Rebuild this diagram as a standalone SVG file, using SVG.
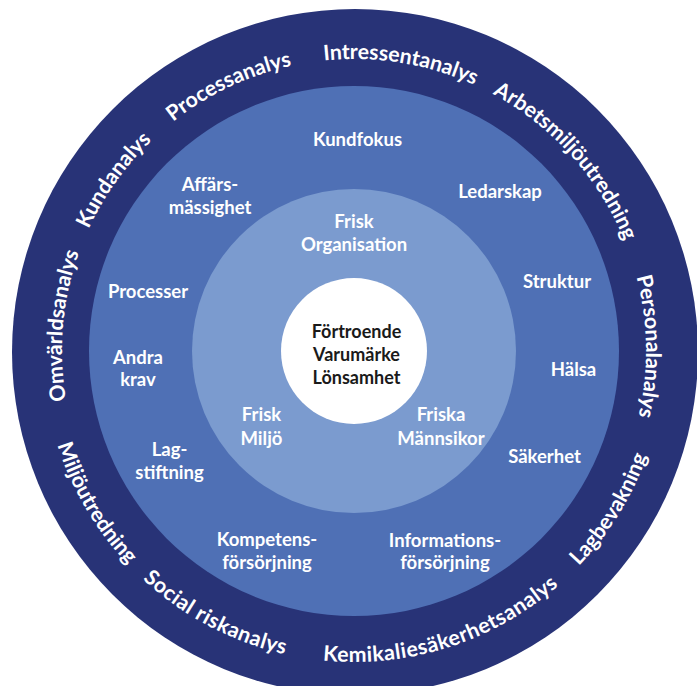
<svg xmlns="http://www.w3.org/2000/svg" xmlns:xlink="http://www.w3.org/1999/xlink" width="697" height="686" viewBox="0 0 697 686">
<style>
.lbl{font-family:Lato,"Open Sans","DejaVu Sans",sans-serif;font-weight:700;fill:#ffffff;text-anchor:middle;font-size:18.5px}
.ctr{font-family:Lato,"Open Sans","DejaVu Sans",sans-serif;font-weight:700;fill:#1a1a1a;text-anchor:middle;font-size:18px}
.arc{font-family:Lato,"Open Sans","DejaVu Sans",sans-serif;font-weight:700;fill:#ffffff;text-anchor:middle;font-size:21.3px}
.wide{letter-spacing:0.5px}
</style>
<defs>
<path id="cw" d="M354,643 A292,292 0 1 1 354,59 A292,292 0 1 1 354,643"/>
<path id="ccw" d="M354,40 A311,311 0 1 0 354,662 A311,311 0 1 0 354,40"/>
</defs>
<rect width="697" height="686" fill="#ffffff"/>
<g id="rings">
<circle cx="355" cy="352" r="343" fill="#283377"/>
<circle cx="354" cy="351" r="265" fill="#4f70b5"/>
<circle cx="354" cy="351" r="162" fill="#7b9bcf"/>
<circle cx="354" cy="351" r="73" fill="#ffffff"/>
</g>
<g id="outer-labels">
<text class="arc"><textPath xlink:href="#cw" startOffset="484">Omvärldsanalys</textPath></text>
<text class="arc"><textPath xlink:href="#cw" startOffset="639">Kundanalys</textPath></text>
<text class="arc"><textPath xlink:href="#cw" startOffset="788">Processanalys</textPath></text>
<text class="arc"><textPath xlink:href="#cw" startOffset="964">Intressentanalys</textPath></text>
<text class="arc"><textPath xlink:href="#cw" startOffset="1162">Arbetsmiljöutredning</textPath></text>
<text class="arc"><textPath xlink:href="#cw" startOffset="1371">Personalanalys</textPath></text>
<text class="arc"><textPath xlink:href="#ccw" startOffset="1293">Lagbevakning</textPath></text>
<text class="arc wide"><textPath xlink:href="#ccw" startOffset="1073">Kemikaliesäkerhetsanalys</textPath></text>
<text class="arc wide"><textPath xlink:href="#ccw" startOffset="826">Social riskanalys</textPath></text>
<text class="arc"><textPath xlink:href="#ccw" startOffset="654">Miljöutredning</textPath></text>
</g>
<g id="middle-labels">
<text class="lbl" x="357.5" y="146">Kundfokus</text>
<text class="lbl" x="210" y="191">Affärs-</text>
<text class="lbl" x="210" y="214">mässighet</text>
<text class="lbl" x="500" y="198">Ledarskap</text>
<text class="lbl" x="557" y="288">Struktur</text>
<text class="lbl" x="148" y="298">Processer</text>
<text class="lbl" x="573.5" y="376">Hälsa</text>
<text class="lbl" x="138" y="364">Andra</text>
<text class="lbl" x="138" y="386">krav</text>
<text class="lbl" x="544.5" y="463">Säkerhet</text>
<text class="lbl" x="169.5" y="456">Lag-</text>
<text class="lbl" x="169.5" y="479">stiftning</text>
<text class="lbl" x="267" y="546">Kompetens-</text>
<text class="lbl" x="267" y="569">försörjning</text>
<text class="lbl" x="445" y="547">Informations-</text>
<text class="lbl" x="445" y="569">försörjning</text>
</g>
<g id="inner-labels">
<text class="lbl" x="354" y="228">Frisk</text>
<text class="lbl" x="354" y="251">Organisation</text>
<text class="lbl" x="261.5" y="421">Frisk</text>
<text class="lbl" x="261.5" y="445">Miljö</text>
<text class="lbl" x="441" y="421">Friska</text>
<text class="lbl" x="441" y="445">Männsikor</text>
</g>
<g id="center">
<text class="ctr" x="356.5" y="338">Förtroende</text>
<text class="ctr" x="356.5" y="361">Varumärke</text>
<text class="ctr" x="356.5" y="384">Lönsamhet</text>
</g>
</svg>
